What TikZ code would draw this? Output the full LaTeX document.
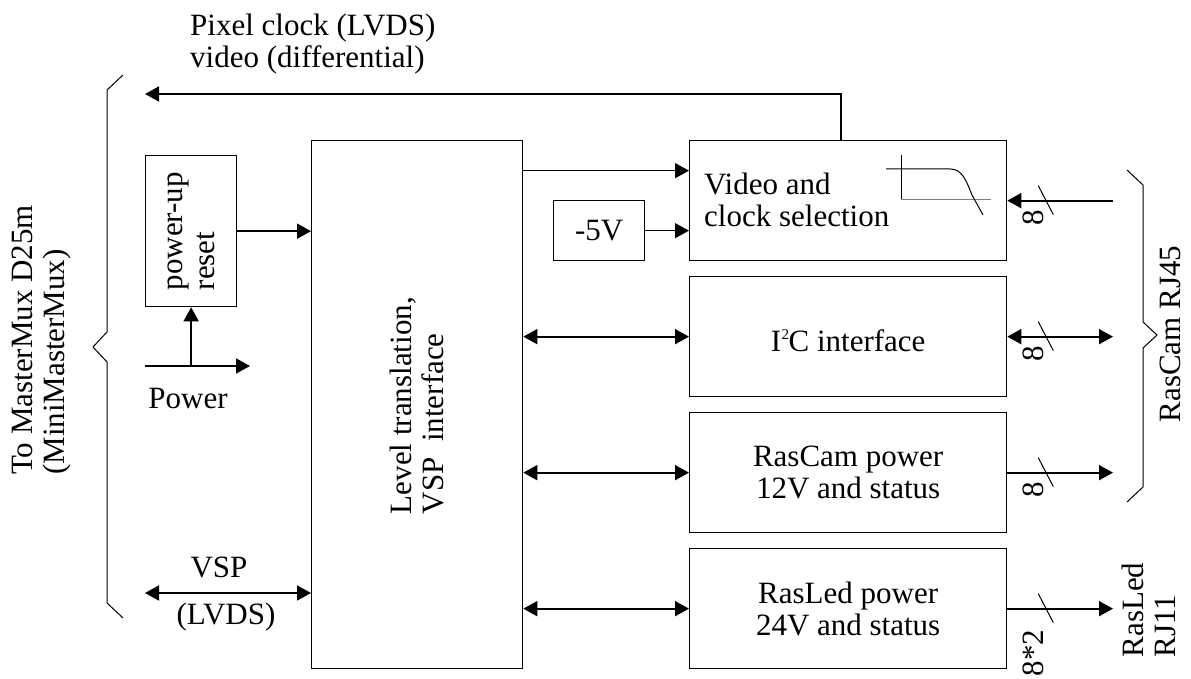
\documentclass[tikz,border=0pt]{standalone}
\usepackage{fontspec}
\setmainfont{Liberation Serif}
\usetikzlibrary{arrows.meta,calc}
\begin{document}
\begin{tikzpicture}[x=1pt,y=-1pt,
  box/.style={draw,line width=1.3pt,anchor=north west,inner sep=0pt},
  lbl/.style={font=\fontsize{31}{32}\selectfont,inner sep=0pt},
  arr/.style={line width=1.8pt,-{Triangle[length=14pt,width=15pt]}},
  darr/.style={line width=1.8pt,{Triangle[length=14pt,width=15pt]}-{Triangle[length=14pt,width=15pt]}},
  thinln/.style={line width=1pt,line join=miter}]
\useasboundingbox (0,0) rectangle (1191,679);

% boxes
\node[box,minimum width=91pt,minimum height=151pt] (reset) at (145,155) {};
\node[box,minimum width=211pt,minimum height=528pt] (level) at (311,140) {};
\node[box,minimum width=91pt,minimum height=60pt] (m5v) at (553,200) {};
\node[box,minimum width=317pt,minimum height=120pt] (video) at (689,140) {};
\node[box,minimum width=317pt,minimum height=120pt] (i2c) at (689,276) {};
\node[box,minimum width=317pt,minimum height=120pt] (rascam) at (689,412) {};
\node[box,minimum width=317pt,minimum height=120pt] (rasled) at (689,548) {};

% box texts
\node[lbl,rotate=90,align=left] (resettxt) at (reset.center) {power-up\\reset};
\node[lbl,rotate=90,align=left] (leveltxt) at ($(level.center)+(0,1)$) {Level translation,\\VSP\ \ interface};
\node[lbl] (m5vtxt) at (m5v.center) {-5V};
\node[lbl,align=left,anchor=west] (videotxt) at (704,200) {Video and\\clock selection};
\node[lbl] (i2ctxt) at ($(i2c.center)+(0,4)$) {I\kern0.5pt\raisebox{12pt}{\fontsize{15}{15}\selectfont 2}\kern-0.5pt C interface};
\node[lbl,align=center] (rascamtxt) at (rascam.center) {RasCam power\\12V and status};
\node[lbl,align=center] (rasledtxt) at (rasled.center) {RasLed power\\24V and status};

% outside texts
\node[lbl,align=left,anchor=west] (pixtxt) at (190,44) {Pixel clock (LVDS)\\video (differential)};
\node[lbl,rotate=90,align=left,anchor=west] (mmtxt) at (42,475) {To MasterMux D25m\\(MiniMasterMux)};
\node[lbl] (powertxt) at (188,398) {Power};
\node[lbl] (vsptxt) at (219,567) {VSP};
\node[lbl] (lvdstxt) at (226,617) {(LVDS)};
\node[lbl,rotate=90] (rj45txt) at (1170,334) {RasCam RJ45};
\node[lbl,rotate=90,align=left] (rj11txt) at (1149,610) {RasLed\\RJ11};
\node[lbl,rotate=90] (n1) at (1033,218) {8};
\node[lbl,rotate=90] (n2) at (1033,354) {8};
\node[lbl,rotate=90] (n3) at (1033,490) {8};
\node[lbl,rotate=90] (n4) at (1033,653) {8*2};

% coordinates
\coordinate (rx) at (1113,0);
\coordinate (topturn) at (841,94);
\coordinate (tl) at (145,94);
\coordinate (pl) at (145,366);
\coordinate (pr) at (250,366);
\coordinate (vspl) at (145,593);
\coordinate (vin) at ($(video.west)+(0,-30)$);

% connectors
\draw[arr] (video.north -| topturn) -- (topturn) -- (tl);
\draw[arr] (reset.east) -- (reset.east -| level.west);
\draw[arr] (pl) -- (pr);
\draw[arr] (reset.south |- pl) -- (reset.south);
\draw[darr] (vspl) -- (vspl -| level.west);
\draw[arr,line width=1.3pt] (vin -| level.east) -- (vin);
\draw[arr,line width=1.3pt] (m5v.east) -- (m5v.east -| video.west);
\draw[darr] (i2c.west -| level.east) -- (i2c.west);
\draw[darr] (rascam.west -| level.east) -- (rascam.west);
\draw[darr] (rasled.west -| level.east) -- (rasled.west);

\draw[arr] (video.east -| rx) -- (video.east);
\draw[darr] (i2c.east) -- (i2c.east -| rx);
\draw[arr] (rascam.east) -- (rascam.east -| rx);
\draw[arr] (rasled.east) -- (rasled.east -| rx);

% bus slashes
\foreach \b in {video,i2c,rascam,rasled}{
  \draw[thinln] ($(\b.east)+(31,-15)$) -- ($(\b.east)+(46,14)$);
}

% filter symbol
\draw[thinln] (901,155) -- (901,200);
\draw[thinln,gray] (901,200) -- (991,200);
\draw[thinln] (886,169) -- (950,169) .. controls (962,169) and (966,180) .. (972,195) -- (983,215);

% braces
\draw[thinln] (123,75) -- (107,90) -- (107,332) -- (93,347) -- (107,362) -- (107,603) -- (123,618);
\draw[thinln] (1127,170) -- (1143,185) -- (1143,322) -- (1157,335) -- (1143,348) -- (1143,487) -- (1127,502);
\end{tikzpicture}
\end{document}
